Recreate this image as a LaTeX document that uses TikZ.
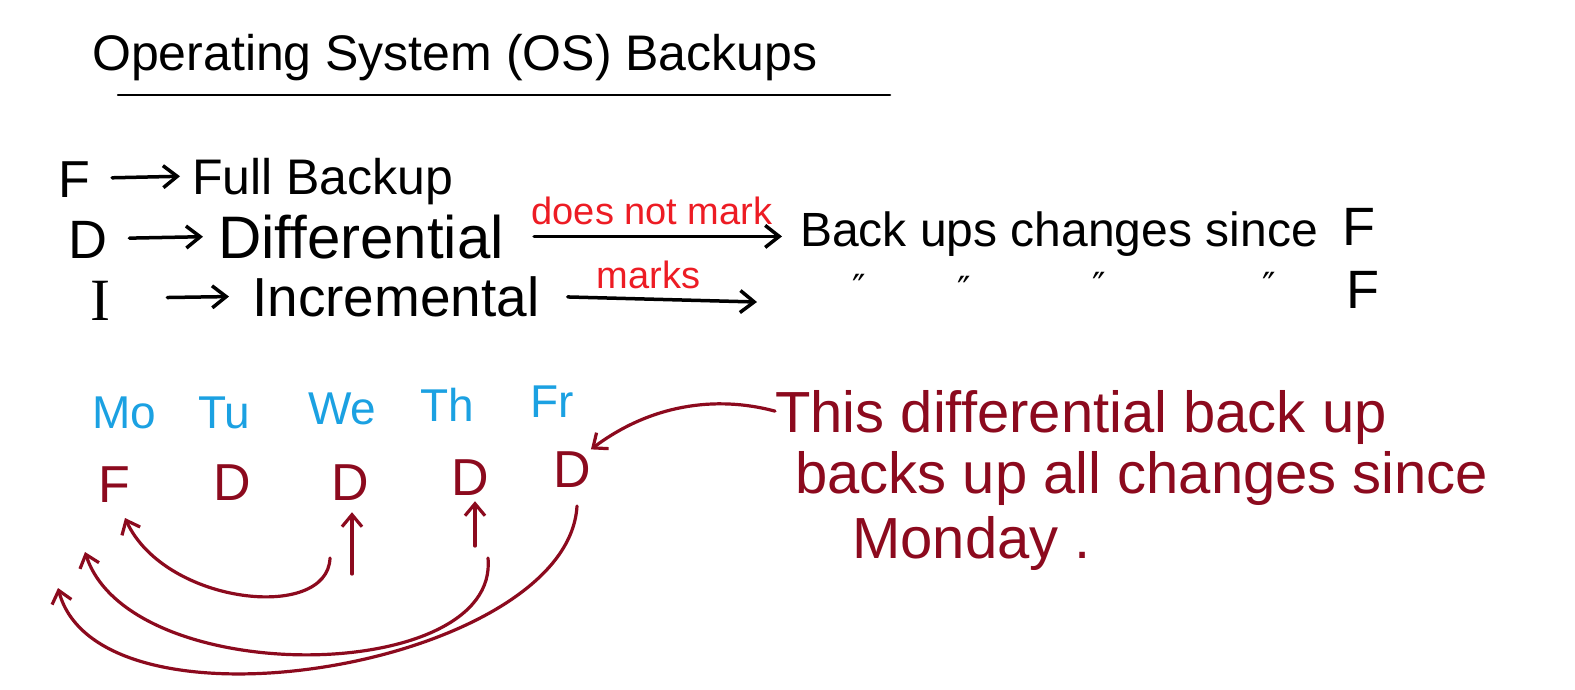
\documentclass[tikz,border=0pt]{standalone}
\usepackage{fontspec}
\setmainfont{Liberation Sans}
\newfontfamily\serifI{Liberation Serif}
\newfontfamily\dejavu{DejaVu Sans}
\usetikzlibrary{arrows.meta}
\definecolor{inkblue}{RGB}{27,161,226}
\definecolor{inkred}{RGB}{237,28,36}
\definecolor{inkdark}{RGB}{140,10,30}
\begin{document}
\begin{tikzpicture}[x=1pt,y=-1pt,
  txt/.style={inner sep=0pt, anchor=base west, text depth=0pt},
  fs/.style={font=\fontsize{#1}{#1}\selectfont, /utils/exec={\pgfmathsetmacro\txth{0.72*#1}}, text height=\txth pt},
  blackarrow/.style={line width=3.5pt, line cap=round, -{Straight Barb[length=14pt,width=22pt]}},
  redarrow/.style={inkdark, line width=3.2pt, line cap=round, -{Straight Barb[length=12pt,width=20pt]}},
  redlabel/.style={inkred, inner sep=0pt, font=\fontsize{38}{38}\selectfont},
  day/.style={txt, fs=46, inkblue},
  dletter/.style={txt, fs=52, inkdark},
  note/.style={txt, fs=58, inkdark},
  ditto/.style={txt, fs=36, font=\dejavu\fontsize{36}{36}\selectfont}
]
\useasboundingbox (0,0) rectangle (1575,689);
\fill[white] (0,0) rectangle (1575,689);

% title
\node[txt, fs=50] (title) at (92,70) {Operating System (OS) Backups};
\coordinate (ulA) at (118,95);
\coordinate (ulB) at (890,95);
\draw[line width=2.5pt, line cap=round] (ulA) -- (ulB);

% row 1
\node[txt, fs=52] (F) at (58,197) {F};
\node[txt, fs=50] (full) at (192,194) {Full Backup};
\draw[blackarrow, shorten <=22pt, shorten >=12pt] (F.east) -- (full.west);

% row 2
\node[txt, fs=54] (D) at (68,258) {D};
\node[txt, fs=60] (diff) at (218,258) {Differential};
\node[txt, fs=48] (since) at (800,246) {Back ups changes since};
\node[txt, fs=54] (sinceF) at (1342,245) {F};
\draw[blackarrow, shorten <=22pt, shorten >=15pt] (D.east) -- (diff.west);
\draw[blackarrow, shorten <=30pt, shorten >=18pt] (diff.east) -- node[redlabel, above=10pt] {does not mark} (diff.east -| since.west);

% row 3
\node[txt, fs=60, font=\serifI\fontsize{60}{60}\selectfont] (I) at (90,320) {I};
\node[txt, fs=55] (incr) at (252,316) {Incremental};
\coordinate (incrEnd) at (757,302);
\draw[blackarrow, shorten <=57pt, shorten >=23pt] (I.east) -- (incr.west);
\draw[blackarrow, shorten <=28pt] (incr.east) -- node[redlabel, above=8pt] {marks} (incrEnd);
\node[ditto] (q1) at (852,300) {″};
\node[ditto] (q2) at (957,302) {″};
\node[ditto] (q3) at (1092,298) {″};
\node[ditto] (q4) at (1262,298) {″};
\node[txt, fs=54] (incF) at (1346,308) {F};

% days
\node[day] (mo) at (92,428) {Mo};
\node[day] (tu) at (198,428) {Tu};
\node[day] (we) at (308,424) {We};
\node[day] (th) at (420,421) {Th};
\node[day] (fr) at (530,417) {Fr};

% backup letters
\node[dletter] (dF) at (98,502) {F};
\node[dletter] (dTu) at (213,500) {D};
\node[dletter] (dWe) at (331,500) {D};
\node[dletter] (dTh) at (451,495) {D};
\node[dletter] (dFr) at (553,487) {D};

% vertical arrows
\coordinate (weFoot) at (352,574);
\coordinate (thFoot) at (475,546);
\draw[redarrow, shorten >=12pt] (weFoot) -- (dWe.south -| weFoot);
\draw[redarrow, shorten >=6pt] (thFoot) -- (dTh.south -| thFoot);

% curved arrows
\coordinate (c1s) at (330,558);
\coordinate (c1e) at (125,518);
\coordinate (c2s) at (488,558);
\coordinate (c2e) at (85,552);
\coordinate (c3s) at (577,506);
\coordinate (c3e) at (58,588);
\draw[redarrow] (c1s) .. controls (328,622) and (165,605) .. (c1e);
\draw[redarrow] (c2s) .. controls (500,685) and (130,690) .. (c2e);
\draw[redarrow] (c3s) .. controls (568,665) and (100,745) .. (c3e);

% note
\node[note] (n1) at (775,432) {This differential back up};
\node[note] (n2) at (795,493) {backs up all changes since};
\node[note] (n3) at (852,558) {Monday .};
\draw[redarrow] (n1.west) .. controls (715,395) and (650,405) .. (dFr.north east);
\end{tikzpicture}
\end{document}
